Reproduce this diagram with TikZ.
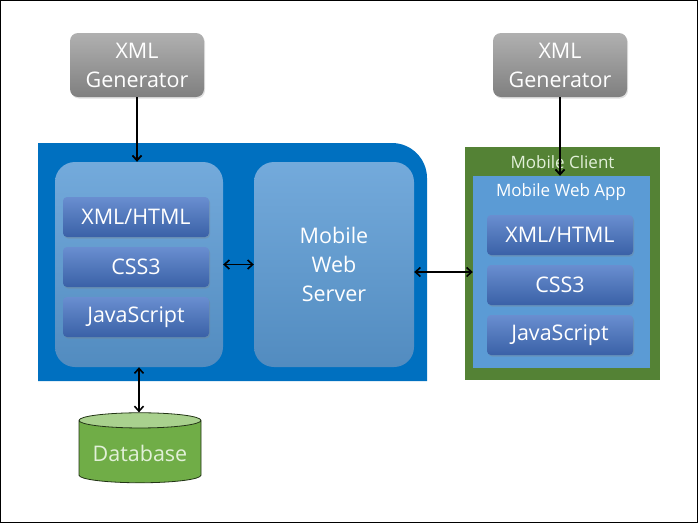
\documentclass[tikz,border=0pt]{standalone}
\usepackage{fontspec}
\setmainfont{Open Sans}
\usetikzlibrary{arrows.meta,shapes.geometric,shadows}

\definecolor{srvblue}{RGB}{0,112,192}
\definecolor{boxblue}{RGB}{91,155,213}
\definecolor{barblue}{RGB}{68,114,196}
\definecolor{gengray}{RGB}{150,150,150}
\definecolor{clientgreen}{RGB}{84,130,53}
\definecolor{dbgreen}{RGB}{112,173,71}
\definecolor{dbtop}{RGB}{169,209,142}
\definecolor{paletext}{RGB}{226,240,217}

\tikzset{
    big/.style={font=\fontsize{21.5}{29}\selectfont, text=white, align=center},
    small/.style={font=\fontsize{17}{20}\selectfont},
    gen/.style={big, rounded corners=8pt, top color=gengray!75!white, bottom color=gengray!85!black,
        minimum width=134pt, minimum height=64pt,
        drop shadow={opacity=0.25, shadow xshift=1pt, shadow yshift=-1.5pt}},
    panel/.style={big, rounded corners=20pt, top color=boxblue!85!white, bottom color=boxblue!90!black,
        minimum height=205pt},
    bar/.style={big, rounded corners=4pt, top color=barblue!80!white, bottom color=barblue!85!black,
        minimum width=146pt, minimum height=40pt,
        drop shadow={opacity=0.3, shadow xshift=1pt, shadow yshift=-1.5pt}},
    link/.style={line width=1.6pt, {Straight Barb[length=5pt,width=9pt]}-{Straight Barb[length=5pt,width=9pt]}},
    feed/.style={line width=1.8pt, -{Straight Barb[length=5pt,width=9pt]}},
}

\begin{document}
\begin{tikzpicture}[x=1pt, y=-1pt]
    \useasboundingbox (0,0) rectangle (698,523);
    \draw[line width=1pt] (0.5,0.5) rectangle (697.5,522.5);

    % web server side
    \fill[srvblue] (38,143) -- (392,143) .. controls (411.3,143) and (427,158.7) .. (427,178)
        -- (427,381) -- (38,381) -- cycle;
    \node[panel, minimum width=168pt] (web) at (139,264.5) {};
    \node[panel, minimum width=160pt] (server) at (334,264.5) {Mobile\\Web\\Server};
    \node[bar] (bxml) at (136,217) {XML/HTML};
    \node[bar] (bcss) at (136,267) {CSS3};
    \node[bar] (bjs) at (136,317) {JavaScript};

    % mobile client side
    \node[fill=clientgreen, minimum width=195pt, minimum height=233pt] (client) at (562.5,263.5) {};
    \node[fill=boxblue, minimum width=177pt, minimum height=192pt] (app) at (561.5,272) {};
    \node[small, text=paletext] (clienttitle) at (562.5,162) {Mobile Client};
    \node[small, text=white] (apptitle) at (561,192) {Mobile Web App};
    \node[bar] (cxml) at (560,235) {XML/HTML};
    \node[bar] (ccss) at (560,285) {CSS3};
    \node[bar] (cjs) at (560,335) {JavaScript};

    % generators and database
    \node[gen] (genL) at (137,65) {XML\\Generator};
    \node[gen] (genR) at (560,65) {XML\\Generator};
    \node[cylinder, shape border rotate=90, aspect=0.15, draw=black!70!dbgreen, line width=0.8pt,
        cylinder uses custom fill, cylinder body fill=dbgreen, cylinder end fill=dbtop,
        minimum width=122pt, minimum height=70pt, big, text=paletext] (db) at (140,453) {Database};

    \draw[feed] (genL.south) -- (genL.south |- web.north);
    \draw[feed] (genR.south) -- (genR.south |- app.north);
    \draw[link] (web.east) -- (server.west);
    \draw[link] (server.east |- app.west) -- (app.west);
    \draw[link] (web.south) -- (web.south |- db.north);
\end{tikzpicture}
\end{document}
